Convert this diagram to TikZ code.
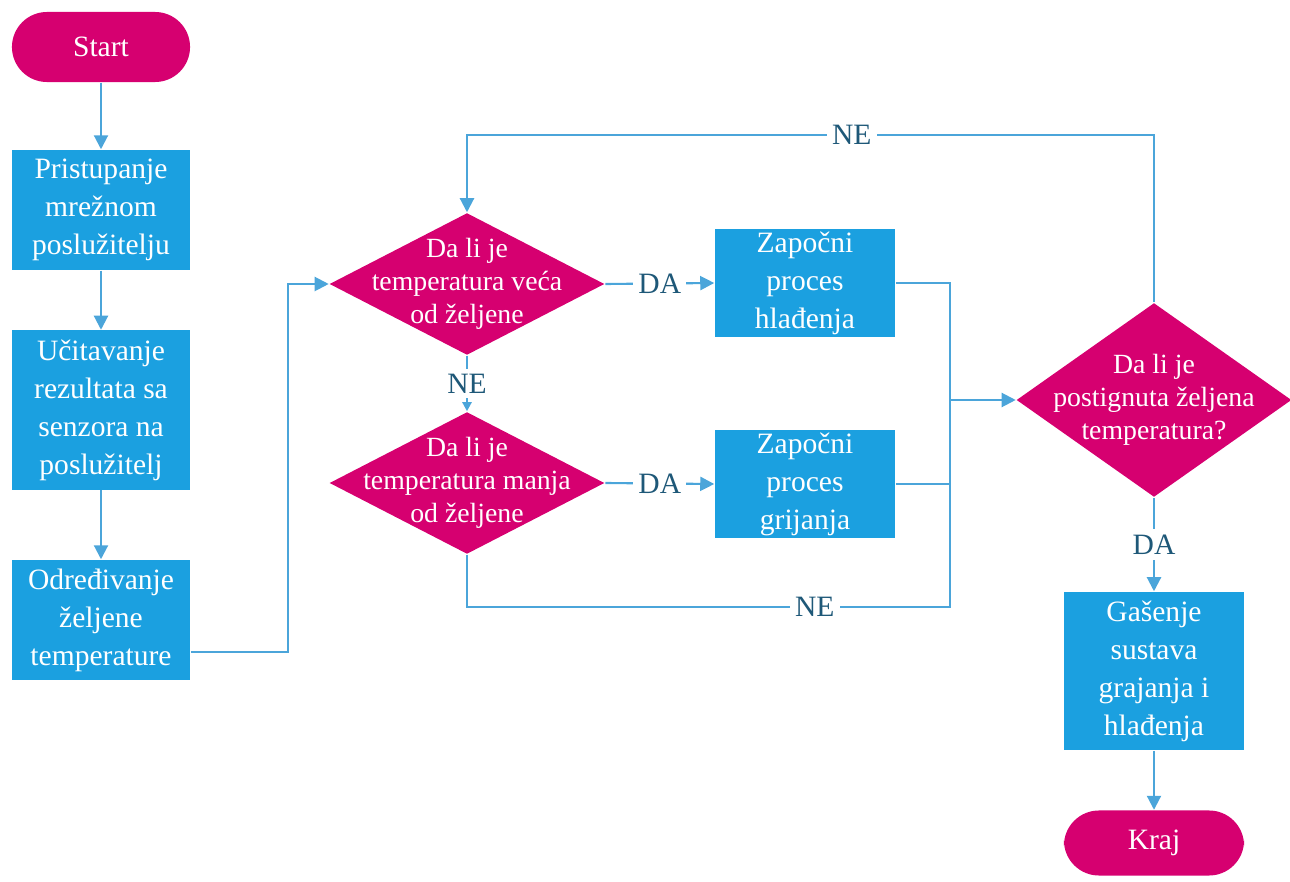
\documentclass[tikz,border=0pt]{standalone}
\usepackage{fontspec}
\setmainfont{Liberation Serif}
\usetikzlibrary{arrows.meta,positioning,shapes.geometric}
\definecolor{boxblue}{RGB}{27,160,224}
\definecolor{pinkfill}{RGB}{214,0,112}
\definecolor{lineblue}{RGB}{75,165,218}
\definecolor{lbltext}{RGB}{30,88,120}

\begin{document}
\begin{tikzpicture}[x=0.01cm, y=-0.01cm,
  every node/.style={font=\fontsize{8.4}{10.8}\selectfont},
  proc/.style={fill=boxblue,text=white,align=center,inner sep=0pt,minimum width=1.78cm},
  term/.style={fill=pinkfill,text=white,rounded corners=0.35cm,minimum width=1.78cm,minimum height=0.7cm},
  cond/.style={diamond,fill=pinkfill,inner sep=0pt,minimum width=2.75cm,minimum height=1.42cm},
  ctxt/.style={text=white,align=center,font=\fontsize{7.9}{9.4}\selectfont},
  lbl/.style={fill=white,text=lbltext,inner sep=1.5pt},
  ln/.style={draw=lineblue,line width=0.6pt},
  arr/.style={ln,-{Triangle[length=0.14cm,width=0.14cm]}},
  smallarr/.style={ln,-{Triangle[length=0.09cm,width=0.09cm]}}]
  \useasboundingbox (0,0) rectangle (1290,882);

  % left column
  \node[term] (start) at (101,47) {Start};
  \node[proc,minimum height=1.2cm] (pris) at (101,210) {Pristupanje\\mrežnom\\poslužitelju};
  \node[proc,minimum height=1.59cm] (ucit) at (101,410) {Učitavanje\\rezultata sa\\senzora na\\poslužitelj};
  \node[proc,minimum height=1.2cm] (odr) at (101,620) {Određivanje\\željene\\temperature};

  % conditions
  \node[cond,label={[ctxt]center:{Da li je\\temperatura veća\\od željene}}] (veca) at (467,284) {};
  \node[cond,label={[ctxt]center:{Da li je\\temperatura manja\\od željene}}] (manja) at (467,483) {};
  \node[proc,minimum width=1.8cm,minimum height=1.08cm] (hlad) at (805,283) {Započni\\proces\\hlađenja};
  \node[proc,minimum width=1.8cm,minimum height=1.08cm] (grij) at (805,484) {Započni\\proces\\grijanja};
  \node[cond,minimum height=1.94cm,label={[ctxt]center:{Da li je\\postignuta željena\\temperatura?}}] (post) at (1154,400) {};

  % end
  \node[proc,minimum width=1.8cm,minimum height=1.58cm] (gas) at (1154,671) {Gašenje\\sustava\\grajanja i\\hlađenja};
  \node[term,minimum width=1.8cm,minimum height=0.65cm] (kraj) at (1154,843) {Kraj};

  \coordinate (bend) at (288,450);
  \coordinate (join) at (950,400);
  \coordinate (joinb) at (950,607);
  \coordinate (top) at (0,135);

  \draw[arr] (start) -- (pris);
  \draw[arr] (pris) -- (ucit);
  \draw[arr] (ucit) -- (odr);
  \draw[arr] ([yshift=-0.32cm]odr.east) -| (bend) |- (veca.west);
  \draw[smallarr] (veca.south) -- node[lbl]{NE} (manja.north);
  \draw[arr] (veca.east) -- node[lbl]{DA} (hlad.west);
  \draw[arr] (manja.east) -- node[lbl]{DA} (grij.west);
  \draw[ln] (hlad.east) -| (join);
  \draw[ln] (grij.east) -| (join);
  \draw[ln] (manja.south) |- node[lbl,pos=0.86]{NE} (joinb) -- (join);
  \draw[arr] (join) -- (post.west);
  \draw[arr] (post.north) |- node[lbl,pos=0.72]{NE} (veca.north |- top) -- (veca.north);
  \draw[arr] (post.south) -- node[lbl]{DA} (gas.north);
  \draw[arr] (gas) -- (kraj);
\end{tikzpicture}
\end{document}
